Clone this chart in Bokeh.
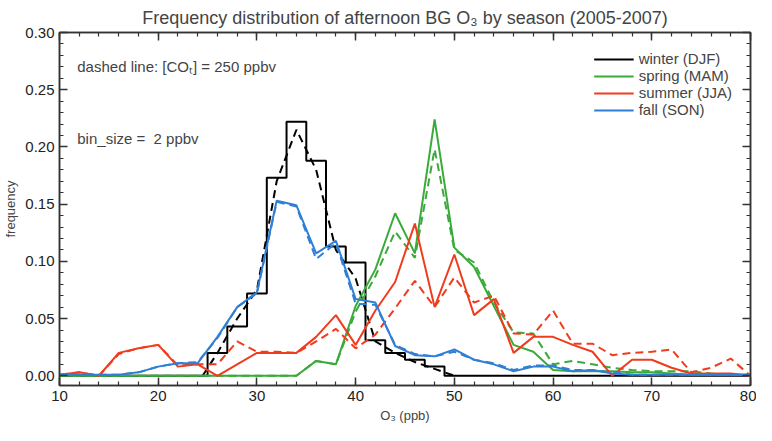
from bokeh.plotting import figure
from bokeh.embed import file_html
from bokeh.resources import INLINE
from bokeh.models import LinearAxis, Range1d, FixedTicker, Label, Legend, LegendItem, CustomJSTickFormatter
import numpy as np

x = list(range(10, 81, 2))
winter = [0,0,0,0,0,0,0,0,0.02,0.043,0.072,0.173,0.222,0.188,0.113,0.099,0.031,0.02,0.014,0.008,0,0,0,0,0,0,0,0,0,0,0,0,0,0,0,0]
winter_d = [None]*8 + [0.02,0.05,0.075,0.17,0.215,0.18,0.11,0.085,0.03,0.02,0.012,0.006,0,0,0,0,0,0,0,0,0,0,0,0,0,0,0,0]
spring = [0,0,0,0,0,0,0,0,0,0,0,0,0,0.013,0.01,0.061,0.093,0.142,0.107,0.224,0.112,0.095,0.061,0.027,0.021,0.005,0.004,0.004,0.004,0.003,0.003,0.002,0.001,0.001,0.001,0.001]
spring_d = [0,0,0,0,0,0,0,0,0,0,0,0,0,0.013,0.01,0.056,0.087,0.126,0.103,0.198,0.11,0.099,0.064,0.038,0.037,0.01,0.013,0.01,0.007,0.005,0.004,0.004,0.004,0.002,0.001,0.001]
summer = [0.001,0.003,0,0.02,0.024,0.027,0.008,0.01,0.0,0.01,0.02,0.02,0.02,0.034,0.053,0.027,0.057,0.082,0.133,0.06,0.106,0.053,0.067,0.02,0.034,0.034,0.027,0.021,0,0.014,0.014,0.007,0.002,0.002,0.002,0.0]
summer_d = [0.001,0.003,0,0.019,0.024,0.027,0.009,0.01,0.01,0.03,0.021,0.021,0.02,0.03,0.041,0.024,0.036,0.059,0.083,0.06,0.086,0.064,0.07,0.037,0.036,0.057,0.028,0.028,0.018,0.02,0.021,0.023,0.003,0.007,0.015,0.0]
fall = [0.001,0.001,0.001,0.001,0.003,0.008,0.011,0.011,0.034,0.06,0.073,0.153,0.149,0.107,0.118,0.067,0.064,0.026,0.018,0.017,0.023,0.014,0.01,0.004,0.008,0.008,0.004,0.005,0.002,0.001,0.001,0.001,0.001,0.001,0.001,0.001]
fall_d = [0.001,0.001,0.001,0.001,0.003,0.008,0.011,0.012,0.033,0.06,0.072,0.152,0.148,0.102,0.116,0.063,0.062,0.027,0.019,0.017,0.021,0.014,0.011,0.005,0.009,0.009,0.005,0.005,0.003,0.001,0.001,0.001,0.001,0.001,0.001,0.001]

FONT = "Liberation Sans"
p = figure(width=756, height=425, output_backend="svg", toolbar_location=None,
           x_range=Range1d(10, 80), y_range=Range1d(-0.0085, 0.30),
           min_border_left=44, min_border_right=6, min_border_top=30, min_border_bottom=36)
p.title.text = "Frequency distribution of afternoon BG O\u2083 by season (2005-2007)"
p.title.align = "center"
p.title.text_font = FONT
p.title.text_font_size = "18px"
p.title.text_font_style = "normal"
p.grid.visible = False
p.outline_line_color = "#333"
p.outline_line_width = 1.5

xt = FixedTicker(ticks=list(range(10, 81, 10)), minor_ticks=list(range(10, 81, 2)))
yt = FixedTicker(ticks=[0, 0.05, 0.1, 0.15, 0.2, 0.25, 0.3], minor_ticks=[i/100 for i in range(0, 31)])
p.xaxis.ticker = xt
p.xaxis.axis_label = "O\u2083 (ppb)"
p.yaxis.ticker = yt
p.yaxis.axis_label = "frequency"
p.yaxis.formatter = CustomJSTickFormatter(code="return tick.toFixed(2);")
p.add_layout(LinearAxis(ticker=xt), "above")
p.add_layout(LinearAxis(ticker=yt), "right")
for ax in p.axis:
    ax.major_tick_in = 8
    ax.major_tick_out = 0
    ax.minor_tick_in = 4
    ax.minor_tick_out = 0
    ax.major_tick_line_width = 1.5
    ax.minor_tick_line_width = 1.2
    ax.major_tick_line_color = "#333"
    ax.minor_tick_line_color = "#333"
    ax.axis_line_color = "#333"
    ax.axis_line_width = 1.5
    ax.major_label_text_font = FONT
    ax.major_label_text_font_size = "15px"
    ax.major_label_text_color = "#222"
    ax.axis_label_text_font = FONT
    ax.axis_label_text_font_size = "13px"
    ax.axis_label_text_font_style = "normal"
    ax.axis_label_standoff = 4
for ax in p.above + p.right:
    ax.major_label_text_alpha = 0
    ax.major_label_text_font_size = "1px"
    ax.major_label_standoff = 0

p.step(x=x, y=winter, mode="center", line_color="black", line_width=2)
items = []
cols = [("winter (DJF)", "black", winter, winter_d),
        ("spring (MAM)", "#3aaa3a", spring, spring_d),
        ("summer (JJA)", "#f03c1e", summer, summer_d),
        ("fall (SON)", "#2f7fd6", fall, fall_d)]
for name, c, s, d in cols:
    if name.startswith("winter"):
        r = p.line([np.nan, np.nan], [np.nan, np.nan], line_color=c, line_width=2)
        p.line([24.5] + x[8:21], [0] + d[8:21], line_color=c, line_width=2, line_dash="8 5")
    else:
        r = p.line(x, s, line_color=c, line_width=2)
        p.line(x, d, line_color=c, line_width=2, line_dash="8 5")
    items.append(LegendItem(label=name, renderers=[r]))

leg = Legend(items=items, location="top_right", border_line_alpha=0, background_fill_alpha=0,
             label_text_font=FONT, label_text_font_size="15px", label_height=12,
             glyph_height=12, glyph_width=40, spacing=0, margin=14, padding=4)
p.add_layout(leg)
p.add_layout(Label(x=11.8, y=0.27, text="dashed line: [CO\u209c] = 250 ppbv", text_font=FONT,
                   text_font_size="15px", text_baseline="middle"))
p.add_layout(Label(x=11.8, y=0.207, text="bin_size =\u00a0\u00a02 ppbv", text_font=FONT,
                   text_font_size="15px", text_baseline="middle"))

open("out.html", "w").write(file_html(p, INLINE))
